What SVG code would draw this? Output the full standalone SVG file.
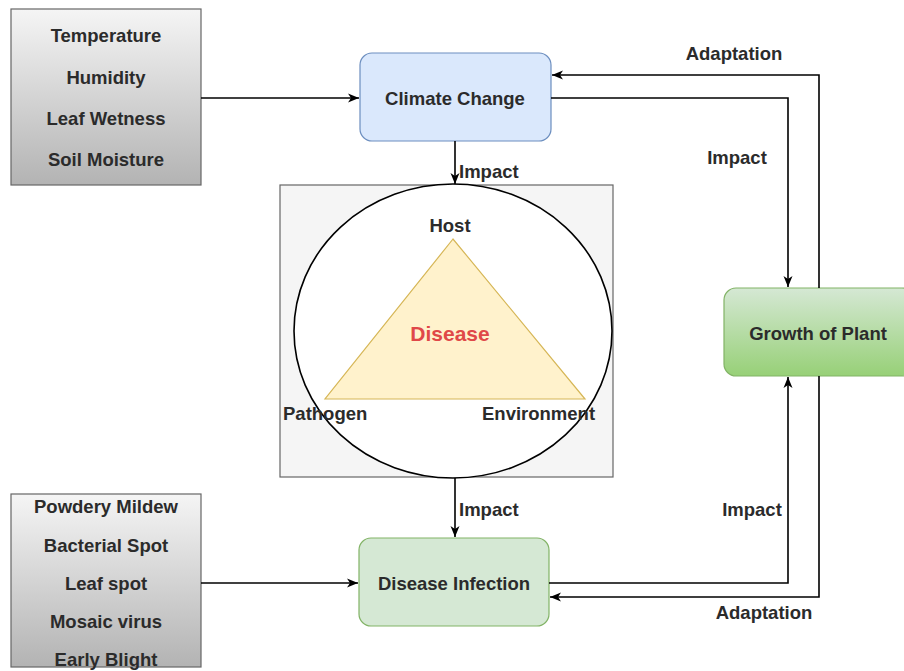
<svg xmlns="http://www.w3.org/2000/svg" width="904" height="671" viewBox="0 0 904 671">
<defs>
<linearGradient id="gGray" x1="0" y1="0" x2="0" y2="1"><stop offset="0" stop-color="#f5f5f5"/><stop offset="1" stop-color="#b3b3b3"/></linearGradient>
<linearGradient id="gGreen" x1="0" y1="0" x2="0" y2="1"><stop offset="0" stop-color="#d5e8d4"/><stop offset="1" stop-color="#97d077"/></linearGradient>
<marker id="arr" markerUnits="userSpaceOnUse" markerWidth="12" markerHeight="12" viewBox="0 0 12 12" refX="11" refY="6" orient="auto"><path d="M0,1.5 L11,6 L0,10.5 L3,6 Z" fill="#000"/></marker>
</defs>
<style>
text{font-family:"Liberation Sans",Arial,sans-serif;font-size:18.5px;font-weight:bold;fill:#2b2b2b;text-anchor:middle;dominant-baseline:central}
.lbl{text-anchor:start}
.edge{fill:none;stroke:#000;stroke-width:1.6;marker-end:url(#arr)}
.plain{fill:none;stroke:#000;stroke-width:1.6}
</style>
<rect width="904" height="671" fill="#fff"/>

<g id="params">
<rect x="11" y="9" width="190" height="176" fill="url(#gGray)" stroke="#666" stroke-width="1.2"/>
<text x="106" y="35">Temperature</text>
<text x="106" y="77">Humidity</text>
<text x="106" y="118">Leaf Wetness</text>
<text x="106" y="159">Soil Moisture</text>
</g>

<g id="diseases">
<rect x="11" y="494" width="190" height="173" fill="url(#gGray)" stroke="#666" stroke-width="1.2"/>
<text x="106" y="506">Powdery Mildew</text>
<text x="106" y="545">Bacterial Spot</text>
<text x="106" y="583">Leaf spot</text>
<text x="106" y="621">Mosaic virus</text>
<text x="106" y="659">Early Blight</text>
</g>

<g id="climate">
<rect x="360" y="53" width="191" height="88" rx="12" fill="#dae8fc" stroke="#6c8ebf" stroke-width="1.2"/>
<text x="455" y="98">Climate Change</text>
</g>

<g id="triad">
<rect x="280" y="185" width="333" height="292" fill="#f5f5f5" stroke="#666" stroke-width="1.2"/>
<ellipse cx="453" cy="331" rx="159" ry="147" fill="#fff" stroke="#000" stroke-width="1.6"/>
<polygon points="453,239 325,399 585,399" fill="#fff2cc" stroke="#d6b656" stroke-width="1.2"/>
<text x="450" y="225">Host</text>
<text x="450" y="333" style="fill:#e04848;font-size:21px">Disease</text>
<text x="283" y="413" class="lbl">Pathogen</text>
<text x="482" y="413" class="lbl">Environment</text>
</g>

<g id="infection">
<rect x="359" y="538" width="190" height="88" rx="12" fill="#d5e8d4" stroke="#82b366" stroke-width="1.2"/>
<text x="454" y="583">Disease Infection</text>
</g>

<g id="growth">
<rect x="724" y="288" width="190" height="88" rx="12" fill="url(#gGreen)" stroke="#82b366" stroke-width="1.2"/>
<text x="818" y="333">Growth of Plant</text>
</g>

<g id="connectors">
<path class="edge" d="M201,98 L359,98"/>
<path class="edge" d="M201,583 L358,583"/>
<path class="edge" d="M455,141 L455,184"/>
<path class="edge" d="M455,478 L455,537"/>
<path class="edge" d="M551,98 L788,98 L788,287"/>
<path class="edge" d="M819,288 L819,75 L552,75"/>
<path class="edge" d="M549,583 L788,583 L788,377"/>
<path class="edge" d="M819,376 L819,597 L550,597"/>
<text x="459" y="171" class="lbl">Impact</text>
<text x="459" y="509" class="lbl">Impact</text>
<text x="737" y="157">Impact</text>
<text x="752" y="509">Impact</text>
<text x="734" y="53">Adaptation</text>
<text x="764" y="612">Adaptation</text>
</g>
</svg>
